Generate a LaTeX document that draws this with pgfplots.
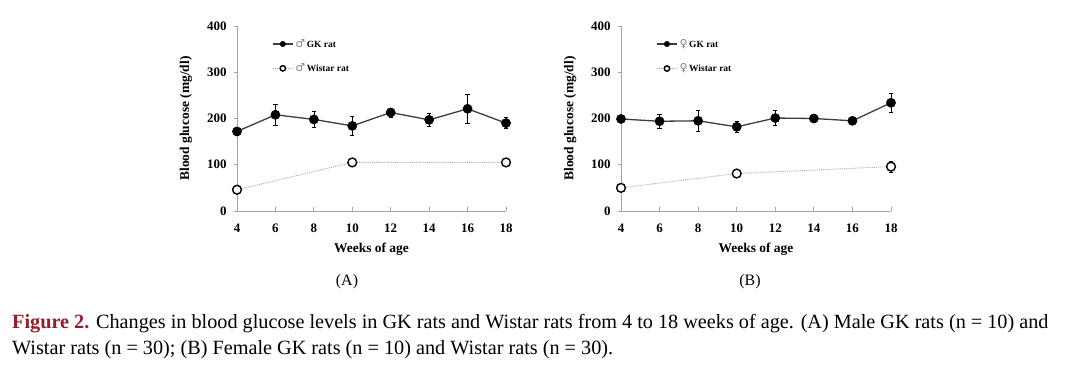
\documentclass[border=0pt]{standalone}
\usepackage{pgfplots}
\pgfplotsset{compat=1.18}
\usepackage{pgfplotstable}
\usepackage{fontspec}
\setmainfont{Liberation Serif}
\newfontfamily\symfont{DejaVu Sans}
\definecolor{figred}{RGB}{150,30,40}
\definecolor{axgrey}{RGB}{165,165,165}
\definecolor{gkline}{RGB}{60,60,60}
\definecolor{wline}{RGB}{170,170,170}

\pgfplotstableread{
x y e
4 172 8
6 208 23
8 198 17
10 184 20
12 213 10
14 197 14
16 221 31
18 190 12
}\maleGK
\pgfplotstableread{
x y e
4 46 3
10 105 4
18 105 5
}\maleW
\pgfplotstableread{
x y e
4 199 6
6 194 16
8 195 23
10 182 12
12 201 16
14 200 8
16 195 6
18 234 20
}\femGK
\pgfplotstableread{
x y e
4 50 4
10 81 5
18 96 12
}\femW

\pgfplotsset{
  glucax/.style={
    scale only axis, height=185bp,
    xmin=4, xmax=18, ymin=0, ymax=400,
    axis lines=left,
    axis line style={-, draw=axgrey, line width=0.8bp},
    xtick={4,6,...,18}, ytick={0,100,...,400},
    tick style={draw=axgrey, line width=0.8bp},
    major tick length=3.5bp,
    tick align=inside,
    y tick style={xshift=-3.5bp},
    /pgf/number format/assume math mode=true,
    ticklabel style={font=\bfseries\fontsize{13}{15}\selectfont},
    xticklabel shift=9bp,
    yticklabel shift=7bp,
    xlabel={Weeks of age},
    ylabel={Blood glucose (mg/dl)},
    label style={font=\bfseries\fontsize{13.5}{15}\selectfont},
    xlabel shift=4bp,
    ylabel shift=8bp,
    clip=false,
    legend cell align=left,
    legend style={draw=none, fill=none, at={(0.13,0.94)}, anchor=north west,
      font=\bfseries\fontsize{9.5}{10}\selectfont, row sep=11bp, inner sep=0pt},
    legend image code/.code={\draw[mark repeat=2,mark phase=2,##1,mark size=2.7bp]
      plot coordinates {(0bp,0bp) (10bp,0bp) (20bp,0bp)};},
  },
  gkplot/.style={color=gkline, line width=1.3bp, mark=*, mark size=4.6bp,
    mark options={fill=black, draw=black, line width=0.5bp},
    error bars/.cd, y dir=both, y explicit,
    error bar style={black, line width=0.7bp},
    error mark options={rotate=90, mark size=2.2bp, black, line width=0.7bp}},
  wplot/.style={color=wline, densely dotted, line width=0.9bp, mark=*, mark size=4.4bp,
    mark options={solid, fill=white, draw=black, line width=1.4bp},
    error bars/.cd, y dir=both, y explicit,
    error bar style={black, solid, line width=0.7bp},
    error mark options={rotate=90, mark size=2.2bp, black, solid, line width=0.7bp}},
}

\begin{document}
\begin{tikzpicture}
\useasboundingbox (0,0) rectangle (1080bp,367bp);

\begin{axis}[glucax, width=269bp, at={(237bp,156bp)}, anchor=south west]
\addplot[gkplot] table[x=x, y=y, y error=e] {\maleGK};
\addlegendentry{{\symfont\mdseries\color{gray}\fontsize{11}{11}\selectfont\char"2642}\,GK rat}
\addplot[wplot] table[x=x, y=y, y error=e] {\maleW};
\addlegendentry{{\symfont\mdseries\color{gray}\fontsize{11}{11}\selectfont\char"2642}\,Wistar rat}
\end{axis}

\begin{axis}[glucax, width=270bp, at={(621bp,156bp)}, anchor=south west]
\addplot[gkplot] table[x=x, y=y, y error=e] {\femGK};
\addlegendentry{{\symfont\mdseries\color{gray}\fontsize{11}{11}\selectfont\char"2640}\,GK rat}
\addplot[wplot] table[x=x, y=y, y error=e] {\femW};
\addlegendentry{{\symfont\mdseries\color{gray}\fontsize{11}{11}\selectfont\char"2640}\,Wistar rat}
\end{axis}

\node[font=\fontsize{16}{18}\selectfont] at (347bp,85bp) {(A)};
\node[font=\fontsize{16}{18}\selectfont] at (750bp,85bp) {(B)};

\node[anchor=base west, inner sep=0pt, font=\fontsize{20.3}{24}\selectfont] at (12bp,39bp)
  {{\color{figred}\bfseries Figure 2.} Changes in blood glucose levels in GK rats and Wistar rats from 4 to 18 weeks of age. (A) Male GK rats (n = 10) and};
\node[anchor=base west, inner sep=0pt, font=\fontsize{20.3}{24}\selectfont] at (12bp,13bp)
  {Wistar rats (n = 30); (B) Female GK rats (n = 10) and Wistar rats (n = 30).};
\end{tikzpicture}
\end{document}
